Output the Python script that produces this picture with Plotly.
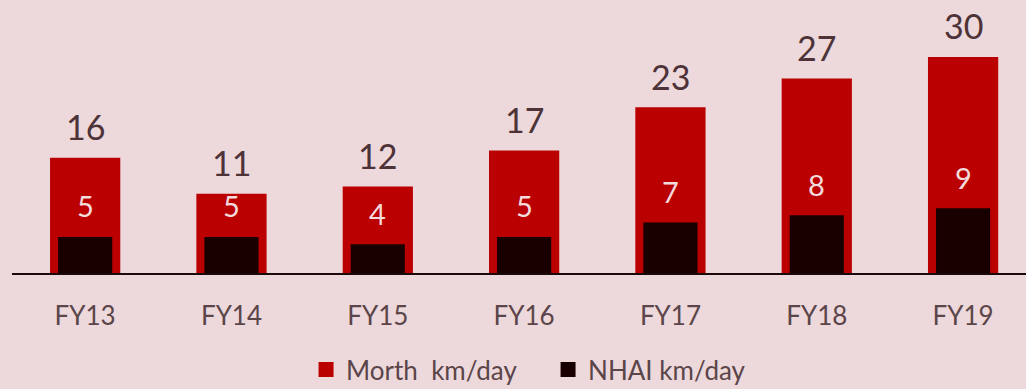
import plotly.graph_objects as go

years = ["FY13", "FY14", "FY15", "FY16", "FY17", "FY18", "FY19"]
morth_km_day = [16, 11, 12, 17, 23, 27, 30]
nhai_km_day = [5, 5, 4, 5, 7, 8, 9]
series_names = ["Morth  km/day", "NHAI km/day"]

BG = "#EDD8DB"
RED = "#BA0000"
DARK = "#190000"
TEXT = "#5B4549"
VALUE_TEXT = "#4D3338"
FONT = "Lato"

fig = go.Figure()
fig.add_trace(go.Bar(
    x=years, y=morth_km_day, name=series_names[0], showlegend=False,
    marker=dict(color=RED, line=dict(width=0)), width=0.48,
))
fig.add_trace(go.Bar(
    x=years, y=nhai_km_day, name=series_names[1], showlegend=False,
    marker=dict(color=DARK, line=dict(width=0)), width=0.37,
))

# legend entries with larger square swatches
for name, col in zip(series_names, [RED, DARK]):
    fig.add_trace(go.Scatter(
        x=[None], y=[None], mode="markers", name=name,
        marker=dict(symbol="square", size=15, color=col),
    ))

# value labels: Morth above the red bar, NHAI inside the red bar above the dark bar
for yr, m, n in zip(years, morth_km_day, nhai_km_day):
    fig.add_annotation(x=yr, y=m, text=str(m), showarrow=False, yanchor="middle",
                       yshift=31, font=dict(size=34, color=VALUE_TEXT, family=FONT))
    fig.add_annotation(x=yr, y=n, text=str(n), showarrow=False, yanchor="middle",
                       yshift=31, font=dict(size=29, color="#F3DADC", family=FONT))

fig.update_layout(
    width=1026, height=389,
    margin=dict(l=12, r=0, t=0, b=116, autoexpand=False),
    paper_bgcolor=BG, plot_bgcolor=BG,
    barmode="overlay",
    showlegend=True,
    legend=dict(orientation="h", x=0.29, xanchor="left", y=-0.268, yanchor="top",
                font=dict(size=26, color=TEXT, family=FONT), bgcolor="rgba(0,0,0,0)",
                entrywidth=197, entrywidthmode="pixels"),
    font=dict(family=FONT, color=TEXT),
)
fig.update_xaxes(
    range=[-0.5, 6.43], showgrid=False, showline=True, linecolor="#1a0a0a", linewidth=2,
    ticks="", tickfont=dict(size=26, color=TEXT, family=FONT), ticklabelstandoff=19,
    automargin=False,
)
fig.update_yaxes(range=[0, 37.9], visible=False, showgrid=False, zeroline=False,
                 automargin=False)

fig.write_html("out.html")
